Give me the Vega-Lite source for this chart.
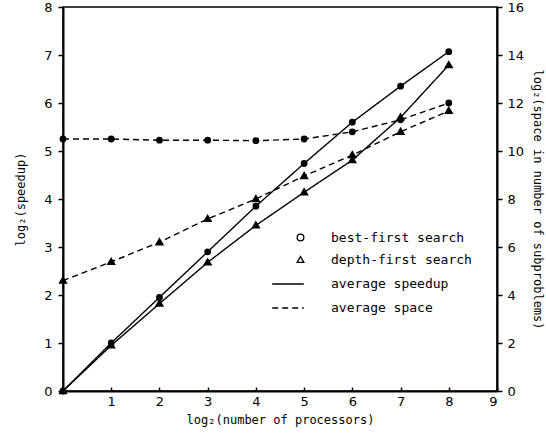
{
  "$schema": "https://vega.github.io/schema/vega-lite/v6.json",
  "width": 434,
  "height": 384,
  "autosize": "none",
  "padding": {"left": 63, "top": 7, "right": 49, "bottom": 43},
  "background": "white",
  "config": {
    "font": "DejaVu Sans Mono",
    "view": {"stroke": "black", "strokeWidth": 1.5},
    "axis": {
      "domainColor": "black", "domainWidth": 2, "tickColor": "black", "tickWidth": 1.5,
      "labelColor": "black", "titleColor": "black", "grid": false,
      "labelFont": "DejaVu Sans", "labelFontSize": 13, "titleFontSize": 12, "titleFontWeight": "normal",
      "titleFont": "DejaVu Sans Mono"
    },
    "legend": {"labelFont": "DejaVu Sans Mono", "labelFontSize": 13, "labelColor": "black"}
  },
  "data": {
    "values": [
      {"p": 0, "search": "best-first search", "measure": "average speedup", "value": 0},
      {"p": 1, "search": "best-first search", "measure": "average speedup", "value": 1.0},
      {"p": 2, "search": "best-first search", "measure": "average speedup", "value": 1.95},
      {"p": 3, "search": "best-first search", "measure": "average speedup", "value": 2.9},
      {"p": 4, "search": "best-first search", "measure": "average speedup", "value": 3.85},
      {"p": 5, "search": "best-first search", "measure": "average speedup", "value": 4.74},
      {"p": 6, "search": "best-first search", "measure": "average speedup", "value": 5.6},
      {"p": 7, "search": "best-first search", "measure": "average speedup", "value": 6.35},
      {"p": 8, "search": "best-first search", "measure": "average speedup", "value": 7.07},
      {"p": 0, "search": "depth-first search", "measure": "average speedup", "value": 0},
      {"p": 1, "search": "depth-first search", "measure": "average speedup", "value": 0.95},
      {"p": 2, "search": "depth-first search", "measure": "average speedup", "value": 1.82},
      {"p": 3, "search": "depth-first search", "measure": "average speedup", "value": 2.68},
      {"p": 4, "search": "depth-first search", "measure": "average speedup", "value": 3.45},
      {"p": 5, "search": "depth-first search", "measure": "average speedup", "value": 4.14},
      {"p": 6, "search": "depth-first search", "measure": "average speedup", "value": 4.81},
      {"p": 7, "search": "depth-first search", "measure": "average speedup", "value": 5.7},
      {"p": 8, "search": "depth-first search", "measure": "average speedup", "value": 6.79},
      {"p": 0, "search": "best-first search", "measure": "average space", "value": 10.5},
      {"p": 1, "search": "best-first search", "measure": "average space", "value": 10.5},
      {"p": 2, "search": "best-first search", "measure": "average space", "value": 10.45},
      {"p": 3, "search": "best-first search", "measure": "average space", "value": 10.45},
      {"p": 4, "search": "best-first search", "measure": "average space", "value": 10.43},
      {"p": 5, "search": "best-first search", "measure": "average space", "value": 10.5},
      {"p": 6, "search": "best-first search", "measure": "average space", "value": 10.8},
      {"p": 7, "search": "best-first search", "measure": "average space", "value": 11.3},
      {"p": 8, "search": "best-first search", "measure": "average space", "value": 12.0},
      {"p": 0, "search": "depth-first search", "measure": "average space", "value": 4.6},
      {"p": 1, "search": "depth-first search", "measure": "average space", "value": 5.38},
      {"p": 2, "search": "depth-first search", "measure": "average space", "value": 6.2},
      {"p": 3, "search": "depth-first search", "measure": "average space", "value": 7.17},
      {"p": 4, "search": "depth-first search", "measure": "average space", "value": 8.0},
      {"p": 5, "search": "depth-first search", "measure": "average space", "value": 8.96},
      {"p": 6, "search": "depth-first search", "measure": "average space", "value": 9.83},
      {"p": 7, "search": "depth-first search", "measure": "average space", "value": 10.8},
      {"p": 8, "search": "depth-first search", "measure": "average space", "value": 11.67}
    ]
  },
  "encoding": {
    "x": {
      "field": "p", "type": "quantitative",
      "scale": {"domain": [0, 9], "nice": false, "zero": false},
      "axis": {"values": [1, 2, 3, 4, 5, 6, 7, 8, 9], "title": "log₂(number of processors)", "tickSize": -4, "labelPadding": 8, "titlePadding": 6}
    }
  },
  "layer": [
    {
      "transform": [{"filter": "datum.measure == 'average speedup'"}],
      "encoding": {
        "y": {
          "field": "value", "type": "quantitative",
          "scale": {"domain": [0, 8], "nice": false},
          "axis": {"values": [0, 1, 2, 3, 4, 5, 6, 7, 8], "title": "log₂(speedup)", "orient": "left", "tickSize": 5, "labelPadding": 6, "titlePadding": 16}
        }
      },
      "layer": [
        {
          "mark": {"type": "line", "color": "black", "strokeWidth": 1.4},
          "encoding": {
            "detail": {"field": "search"},
            "strokeDash": {
              "field": "measure", "type": "nominal",
              "scale": {"domain": ["average speedup", "average space"], "range": [[1, 0], [6, 4]]},
              "legend": {
                "orient": "none", "legendX": 208, "legendY": 260, "title": null,
                "symbolType": "stroke", "symbolSize": 1000, "symbolStrokeWidth": 1.4, "symbolStrokeColor": "black",
                "labelOffset": 26, "rowPadding": -8
              }
            }
          }
        },
        {
          "mark": {"type": "point", "filled": false, "size": 11, "strokeWidth": 3.5, "color": "black", "opacity": 1},
          "encoding": {
            "shape": {
              "field": "search", "type": "nominal",
              "scale": {"domain": ["best-first search", "depth-first search"], "range": ["circle", "triangle-up"]},
              "legend": {
                "orient": "none", "legendX": 231, "legendY": 224, "title": null,
                "symbolSize": 45, "symbolStrokeWidth": 1.3, "symbolStrokeColor": "black",
                "labelOffset": 24, "rowPadding": 8
              }
            }
          }
        }
      ]
    },
    {
      "transform": [{"filter": "datum.measure == 'average space'"}],
      "encoding": {
        "y": {
          "field": "value", "type": "quantitative",
          "scale": {"domain": [0, 16], "nice": false},
          "axis": {"values": [0, 2, 4, 6, 8, 10, 12, 14, 16], "title": "log₂(space in number of subproblems)", "orient": "right", "tickSize": 5, "labelPadding": 5, "titlePadding": 7}
        }
      },
      "layer": [
        {
          "mark": {"type": "line", "color": "black", "strokeWidth": 1.4},
          "encoding": {
            "detail": {"field": "search"},
            "strokeDash": {"field": "measure", "type": "nominal"}
          }
        },
        {
          "mark": {"type": "point", "filled": false, "size": 11, "strokeWidth": 3.5, "color": "black", "opacity": 1},
          "encoding": {
            "shape": {"field": "search", "type": "nominal"}
          }
        }
      ]
    }
  ],
  "resolve": {"scale": {"y": "independent"}}
}
